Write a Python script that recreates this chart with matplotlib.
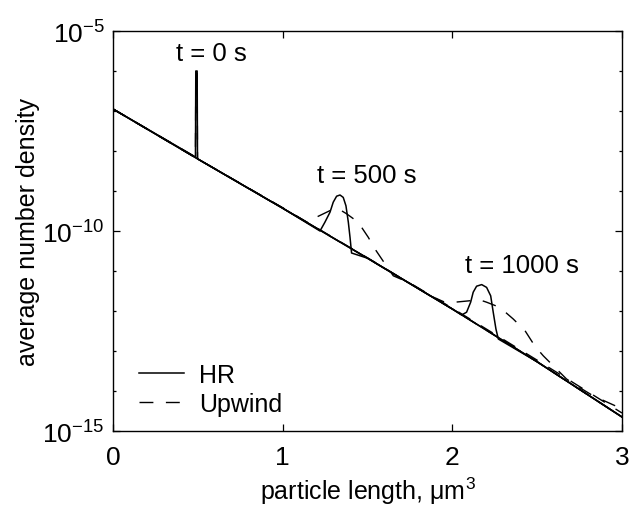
import matplotlib
matplotlib.use('Agg')
import matplotlib.pyplot as plt
import numpy as np

plt.rcParams['font.family'] = ['Liberation Sans', 'DejaVu Sans']
plt.rcParams['mathtext.fontset'] = 'custom'
plt.rcParams['mathtext.rm'] = 'Liberation Sans'
plt.rcParams['mathtext.it'] = 'Liberation Sans:italic'

# base distribution (log10 of density)
base_x = [0.0, 0.5, 1.0, 1.5, 2.0, 2.5, 3.0]
base_ly = [-6.95, -8.2, -9.43, -10.68, -11.95, -13.27, -14.65]

# t = 0 s : narrow spike at x ~ 0.49
spike_x = [0.486, 0.488, 0.496, 0.498]
spike_ly = [-8.15, -6.0, -6.0, -8.17]

# HR, t = 500 s pulse
hr500_x = [1.220, 1.249, 1.279, 1.298, 1.318, 1.338, 1.357, 1.373, 1.387, 1.397, 1.406]
hr500_ly = [-10.0, -9.78, -9.53, -9.28, -9.13, -9.10, -9.16, -9.37, -9.78, -10.16, -10.55]

# HR, t = 1000 s pulse
hr1000_x = [2.055, 2.084, 2.108, 2.123, 2.143, 2.173, 2.202, 2.226, 2.241, 2.257, 2.271]
hr1000_ly = [-12.10, -12.03, -11.78, -11.53, -11.38, -11.34, -11.41, -11.62, -12.03, -12.45, -12.70]

# Upwind, t = 500 s
up500_x = [0.0, 0.5, 1.0, 1.15, 1.196, 1.279, 1.33, 1.377, 1.445, 1.505, 1.544,
           1.603, 1.652, 1.75, 2.0, 2.5, 3.0]
up500_ly = [-6.95, -8.2, -9.42, -9.80, -9.66, -9.49, -9.45, -9.57, -9.78, -10.16, -10.45,
            -10.82, -11.12, -11.30, -11.93, -13.23, -14.55]

# Upwind, t = 1000 s
up1000_x = [0.0, 0.5, 1.0, 1.5, 1.77, 1.87, 1.95, 2.015, 2.113, 2.16, 2.202, 2.28,
            2.359, 2.428, 2.487, 2.536, 2.673, 2.733, 2.83, 2.976, 3.0]
up1000_ly = [-6.95, -8.2, -9.42, -10.67, -11.36, -11.62, -11.77, -11.78, -11.74, -11.72,
             -11.78, -11.91, -12.2, -12.49, -12.88, -13.12, -13.7, -13.87, -14.12, -14.4, -14.5]


def with_pulse(px, ply):
    # base curve outside the pulse, pulse points inside
    bx = np.array(base_x)
    bl = np.array(base_ly)
    keep = (bx < px[0]) | (bx > px[-1])
    x = np.concatenate([bx[keep], px])
    l = np.concatenate([bl[keep], ply])
    o = np.argsort(x)
    return x[o], 10.0 ** l[o]


fig = plt.figure(figsize=(6.31, 5.10), dpi=100)
ax = fig.add_axes([113 / 631, 1 - 432 / 510, (622 - 113) / 631, 400 / 510])

dash = (10, 9)
x0, y0 = with_pulse(spike_x, spike_ly)
x1, y1 = with_pulse(hr500_x, hr500_ly)
x2, y2 = with_pulse(hr1000_x, hr1000_ly)

ax.plot(x0, y0, 'k-', lw=1.1, label='HR')
ax.plot(x0, y0, 'k--', lw=1.0, dashes=dash, label='Upwind')
ax.plot(x1, y1, 'k-', lw=1.1)
ax.plot(x2, y2, 'k-', lw=1.1)
ax.plot(up500_x, 10.0 ** np.array(up500_ly), 'k--', lw=1.0, dashes=dash)
ax.plot(up1000_x, 10.0 ** np.array(up1000_ly), 'k--', lw=1.0, dashes=dash)

ax.set_yscale('log')
ax.set_xlim(0, 3)
ax.set_ylim(1e-15, 1e-5)
ax.set_xticks([0, 1, 2, 3])
ax.set_yticks([1e-15, 1e-10, 1e-5])
ax.set_yticks([10.0 ** k for k in range(-15, -4)], minor=True)
ax.yaxis.set_minor_formatter(plt.NullFormatter())
ax.tick_params(which='both', direction='in', top=True, right=True,
               labelsize=19, width=0.9)
ax.tick_params(axis='x', pad=10)
ax.tick_params(axis='y', pad=6)
ax.tick_params(which='major', length=5)
ax.tick_params(which='minor', length=2.5)
for s in ax.spines.values():
    s.set_linewidth(1.0)

ax.text(0.578, 10 ** -5.55, 't = 0 s', ha='center', va='center', fontsize=18.5)
ax.text(1.495, 10 ** -8.61, 't = 500 s', ha='center', va='center', fontsize=18.5)
ax.text(2.41, 10 ** -10.85, 't = 1000 s', ha='center', va='center', fontsize=18.5)

ax.set_xlabel('particle length, μm$^3$', fontsize=18, labelpad=4)
ax.set_ylabel('average number density', fontsize=18, labelpad=2)

ax.legend(loc='lower left', frameon=False, fontsize=18, handlelength=1.8,
          handletextpad=0.6, borderaxespad=0.2, labelspacing=0.2,
          bbox_to_anchor=(0.022, 0.0))

fig.savefig('out.png', dpi=100)
